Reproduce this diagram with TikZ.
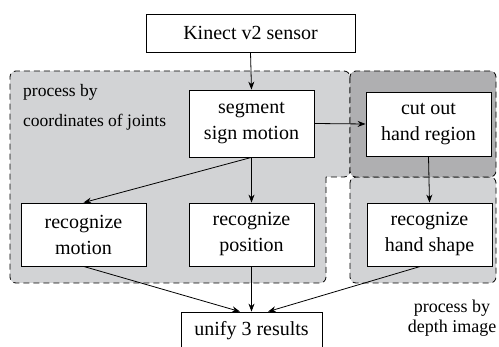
\documentclass[tikz,border=0pt]{standalone}
\usepackage{fontspec}
\setmainfont{Liberation Serif}
\usetikzlibrary{arrows.meta}
\definecolor{lightreg}{RGB}{210,211,213}
\definecolor{darkreg}{RGB}{175,175,177}
\begin{document}
\begin{tikzpicture}[x=1pt,y=-1pt,
  box/.style={draw=black, line width=0.8pt, fill=white, inner sep=0pt, align=center,
    minimum width=125pt, font=\fontsize{20}{26}\selectfont},
  region/.style={draw=black, line width=0.8pt, dash pattern=on 6pt off 4pt},
  conn/.style={line width=0.8pt, -{Stealth[length=8pt,width=6pt]}},
  lbl/.style={inner sep=0pt}
]
\useasboundingbox (0,0) rectangle (499,347);
% regions
\filldraw[region, fill=lightreg, rounded corners=6pt]
  (326,177) -- (326,283) -- (10,283) -- (10,71) -- (350,71) -- (350,177) -- (326,177);
\filldraw[region, fill=lightreg, rounded corners=6pt] (350,177) rectangle (496,283);
\filldraw[region, fill=darkreg, rounded corners=6pt] (350,71) rectangle (496,177);
% nodes
\node[box, minimum width=209pt, minimum height=38pt] (kin) at (250.5,33) {Kinect v2 sensor};
\node[box, minimum height=67pt] (seg) at (251.5,123.5) {segment\\sign motion};
\node[box, minimum height=64pt] (cut) at (428.5,124) {cut out\\hand region};
\node[box, minimum height=63pt] (mot) at (83.5,234.5) {recognize\\motion};
\node[box, minimum height=63pt] (pos) at (251.5,234.5) {recognize\\position};
\node[box, minimum height=63pt] (hand) at (429.5,234.5) {recognize\\hand shape};
\node[box, minimum width=141pt, minimum height=38pt] (uni) at (251.5,331) {unify 3 results};
% labels
\node[lbl, anchor=north west, align=left, font=\fontsize{17.5}{30}\selectfont] (lab1) at (23,84) {process by\\coordinates of joints};
\node[lbl, anchor=north, align=center, font=\fontsize{18}{20}\selectfont] (lab2) at (452,299.5) {process by\\depth image};
% connectors
\draw[conn] (kin.south) -- (seg.north);
\draw[conn] (seg.east) -- (cut.west);
\draw[conn] (seg.south) -- (mot.north);
\draw[conn] (seg.south) -- (pos.north);
\draw[conn] (cut.south) -- (hand.north);
\draw[conn] (mot.south) -- ([xshift=-11.5pt]uni.north);
\draw[conn] (pos.south) -- (uni.north);
\draw[conn] ([xshift=-9pt]hand.south) -- ([xshift=16.5pt]uni.north);
\end{tikzpicture}
\end{document}
